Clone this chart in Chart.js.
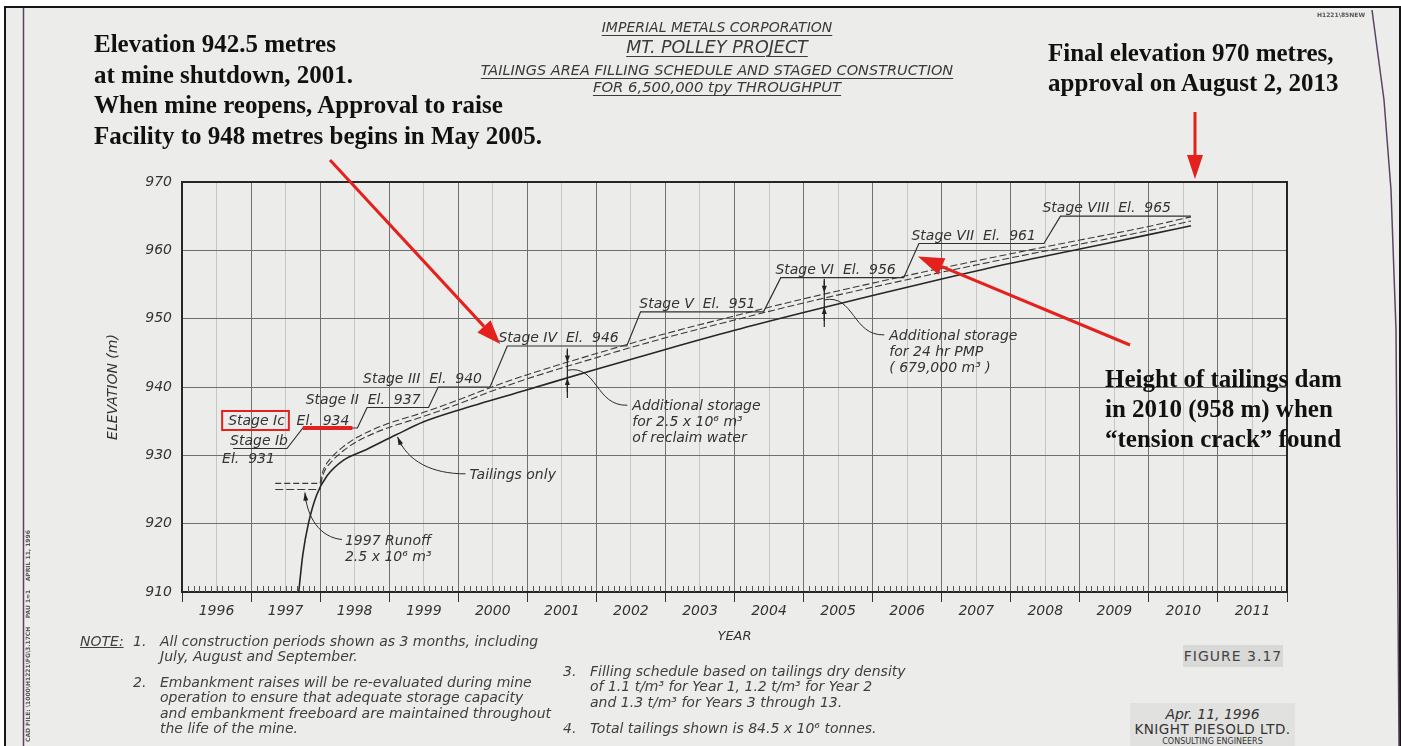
<!DOCTYPE html>
<html lang="en">
<head>
<meta charset="utf-8">
<title>Mt. Polley - tailings area filling schedule</title>
<script src="https://cdn.jsdelivr.net/npm/chart.js@4.4.1/dist/chart.umd.min.js"></script>
<style>
  html, body { margin: 0; padding: 0; }
  body { width: 1401px; height: 746px; overflow: hidden; position: relative; background: #fff; font-family: "DejaVu Sans", sans-serif; }
  #sheet { position: absolute; left: 4px; top: 6px; width: 1397px; height: 740px; box-sizing: border-box; background: #ececea; border: 2px solid #151515; border-bottom: none; }
  #chart { position: absolute; left: 0; top: 0; }
  .cad { position: absolute; white-space: nowrap; color: #3a3a3a; font-style: italic; line-height: 1.164; }
  .cad u { text-underline-offset: 3px; text-decoration-thickness: 1px; }
  .note { position: absolute; white-space: nowrap; color: #3f3f3f; font-style: italic; font-size: 14px; line-height: 15.3px; }
  .big { position: absolute; white-space: nowrap; font-family: "Liberation Serif", "Times New Roman", serif; font-weight: bold; font-size: 25px; line-height: 30.7px; color: #111; }
  .tiny { position: absolute; white-space: nowrap; color: #555; font-size: 6px; font-weight: bold; }
</style>
</head>
<body>
<div id="sheet"></div>
<canvas id="chart" width="1401" height="746"></canvas>

<!-- drawing title -->
<div class="cad" style="left:417px; width:600px; text-align:center; top:19px; font-size:14px;"><u>IMPERIAL METALS CORPORATION</u></div>
<div class="cad" style="left:417px; width:600px; text-align:center; top:37px; font-size:17.5px;"><u>MT. POLLEY PROJECT</u></div>
<div class="cad" style="left:417px; width:600px; text-align:center; top:62px; font-size:14.5px;"><u>TAILINGS AREA FILLING SCHEDULE AND STAGED CONSTRUCTION</u></div>
<div class="cad" style="left:417px; width:600px; text-align:center; top:78px; font-size:14.8px;"><u>FOR 6,500,000 tpy THROUGHPUT</u></div>

<!-- comments added on top of the scan -->
<div class="big" style="left:94px; top:29px;">Elevation 942.5 metres<br>at mine shutdown, 2001.<br>When mine reopens, Approval to raise<br>Facility to 948 metres begins in May 2005.</div>
<div class="big" style="left:1048px; top:38px; line-height:30px;">Final elevation 970 metres,<br>approval on August 2, 2013</div>
<div class="big" style="left:1105px; top:364px; line-height:30px;">Height of tailings dam<br>in 2010 (958 m) when<br>“tension crack” found</div>

<!-- notes -->
<div class="note" style="left:80px; top:634px;"><u>NOTE:</u></div>
<div class="note" style="left:133px; top:634px;">1.</div>
<div class="note" style="left:160px; top:634px;">All construction periods shown as 3 months, including<br>July, August and September.</div>
<div class="note" style="left:133px; top:675px;">2.</div>
<div class="note" style="left:160px; top:675px;">Embankment raises will be re-evaluated during mine<br>operation to ensure that adequate storage capacity<br>and embankment freeboard are maintained throughout<br>the life of the mine.</div>
<div class="note" style="left:563px; top:664px;">3.</div>
<div class="note" style="left:590px; top:664px;">Filling schedule based on tailings dry density<br>of 1.1 t/m³ for Year 1, 1.2 t/m³ for Year 2<br>and 1.3 t/m³ for Years 3 through 13.</div>
<div class="note" style="left:563px; top:721px;">4.</div>
<div class="note" style="left:590px; top:721px;">Total tailings shown is 84.5 x 10⁶ tonnes.</div>

<!-- title block -->
<div style="position:absolute; left:1183px; top:645px; width:100px; height:22px; background:#d9d9d7; color:#444; font-size:14px; line-height:22px; text-align:center; letter-spacing:1px;">FIGURE 3.17</div>
<div style="position:absolute; left:1130px; top:703px; width:165px; height:43px; background:#e1e1df; color:#333; text-align:center;">
  <div style="font-style:italic; font-size:14px; line-height:15px; margin-top:4px;">Apr. 11, 1996</div>
  <div style="font-size:13.5px; line-height:15px; letter-spacing:0.5px;">KNIGHT PIESOLD LTD.</div>
  <div style="font-size:8px; line-height:9px;">CONSULTING ENGINEERS</div>
</div>
<div class="tiny" style="left:1317px; top:11px;">H1221\85NEW</div>
<div class="tiny" style="left:24px; top:742px; transform:rotate(-90deg); transform-origin:left top;">CAD FILE: \1000\H1221\FG\3.17CH &nbsp;&nbsp; PAU 1=1 &nbsp;&nbsp; APRIL 11, 1996</div>

<script>
// ---- values ----
const yearLabels = ['1996', '1997', '1998', '1999', '2000', '2001', '2002', '2003',
                    '2004', '2005', '2006', '2007', '2008', '2009', '2010', '2011'];
const elevTicks = [910, 920, 930, 940, 950, 960, 970];

// tailings only (solid curve)
const tailingsYear = [1997.69, 1997.75, 1997.83, 1997.95, 1998.10, 1998.34, 1998.68, 1999.10, 1999.50,
                      2000, 2001, 2002, 2003, 2004, 2005, 2006, 2007, 2008, 2009, 2010, 2010.61];
const tailingsElev = [910.0, 915.5, 920.0, 924.2, 927.0, 929.3, 930.9, 933.0, 934.9,
                      936.6, 939.6, 942.6, 945.5, 948.3, 950.9, 953.4, 955.8, 958.1, 960.2, 962.3, 963.6];

// pond levels (the two dashed curves)
const pondYear = [1998.00, 1998.02, 1998.06, 1998.14, 1998.34, 1998.53, 1998.92, 1999.50, 2000.00, 2000.46,
                  2001, 2002, 2003, 2004, 2005, 2006, 2007, 2008, 2009, 2010, 2010.61];
const pondHigh = [925.9, 927.0, 928.2, 929.4, 931.3, 932.6, 934.4, 936.3, 938.1, 939.9,
                  941.8, 944.9, 947.8, 950.4, 952.9, 955.2, 957.4, 959.5, 961.5, 963.5, 964.9];
const pondLow  = [925.0, 926.3, 927.6, 928.8, 930.7, 932.0, 933.8, 935.7, 937.5, 939.3,
                  941.2, 944.3, 947.2, 949.8, 952.3, 954.6, 956.8, 958.9, 960.9, 962.9, 964.3];

// 1997 runoff storage
const runoffYear = [1997.35, 1998.0];
const runoffHigh = [925.9, 925.9];
const runoffLow  = [925.0, 925.0];

// staged embankment crest
const stageNames = ['Stage Ib', 'Stage Ic', 'Stage II', 'Stage III', 'Stage IV',
                    'Stage V', 'Stage VI', 'Stage VII', 'Stage VIII'];
const stageCrest = [931, 934, 937, 940, 946, 951, 956, 961, 965];
const stageYear = [1996.74, 1997.52, 1997.75, 1998.54, 1998.68, 1999.57, 1999.71, 2000.46, 2000.71,
                   2002.44, 2002.64, 2004.42, 2004.67, 2006.45, 2006.67, 2008.48, 2008.72, 2010.61];
const stageElev = [931, 931, 934, 934, 937, 937, 940, 940, 946, 946, 951, 951, 956, 956, 961, 961, 965, 965];

// additional storage dimension marks
const storageYear = [2001.58, 2005.30];
const storageTop = [943.6, 953.8];
const storageBottom = [941.3, 951.7];
const storageNotes = [
  ['Additional storage', 'for 2.5 x 10⁶ m³', 'of reclaim water'],
  ['Additional storage', 'for 24 hr PMP', '( 679,000 m³ )']
];

const RED = '#e4211c';
const INK = '#333';

function pts(xs, ys) {
  return xs.map((v, i) => ({ x: v, y: ys[i] }));
}

function arrow(ctx, x0, y0, x1, y1, head, half, color, width) {
  const ang = Math.atan2(y1 - y0, x1 - x0);
  const bx = x1 - head * Math.cos(ang), by = y1 - head * Math.sin(ang);
  ctx.strokeStyle = color;
  ctx.lineWidth = width;
  ctx.beginPath();
  ctx.moveTo(x0, y0);
  ctx.lineTo(bx, by);
  ctx.stroke();
  ctx.fillStyle = color;
  ctx.beginPath();
  ctx.moveTo(x1, y1);
  ctx.lineTo(bx + half * Math.sin(ang), by - half * Math.cos(ang));
  ctx.lineTo(bx - half * Math.sin(ang), by + half * Math.cos(ang));
  ctx.closePath();
  ctx.fill();
}

// everything drawn on top of the curves: labels, leaders, red marks
const drawingPlugin = {
  id: 'drawing',
  afterDatasetsDraw(chart) {
    const { ctx, chartArea: a } = chart;
    const px = v => chart.scales.x.getPixelForValue(v);
    const py = v => chart.scales.y.getPixelForValue(v);
    ctx.save();

    // plot frame
    ctx.strokeStyle = '#262626';
    ctx.lineWidth = 2;
    ctx.strokeRect(a.left, a.top, a.right - a.left, a.bottom - a.top);

    // monthly ticks along the year axis
    ctx.lineWidth = 1;
    ctx.strokeStyle = '#555';
    for (let m = 1; m < 192; m++) {
      if (m % 12 === 0) continue;
      const xx = Math.round(px(1996 + m / 12)) + 0.5;
      ctx.beginPath();
      ctx.moveTo(xx, a.bottom);
      ctx.lineTo(xx, a.bottom - 6);
      ctx.stroke();
    }

    // stage labels
    ctx.font = 'italic 14px "DejaVu Sans"';
    stageNames.forEach((name, i) => {
      const x0 = px(stageYear[2 * i]);
      const x1 = px(stageYear[2 * i + 1]);
      const yy = py(stageCrest[i]);
      ctx.fillStyle = INK;
      if (i === 0) {
        ctx.textAlign = 'right';
        ctx.fillText(name, x1 + 1, yy - 4);
        ctx.textAlign = 'left';
        ctx.fillText('El.  ' + stageCrest[i], x0 - 11, yy + 14);
      } else if (i === 1) {
        ctx.textAlign = 'right';
        ctx.fillText('El.  ' + stageCrest[i], x1 - 8, yy - 3);
        ctx.fillText(name, x0 - 18, yy - 3);
        const w = ctx.measureText(name).width;
        ctx.strokeStyle = RED;
        ctx.lineWidth = 2;
        ctx.strokeRect(x0 - 18 - w - 6, yy - 17, w + 10, 19);
        ctx.fillStyle = RED;
        ctx.fillRect(x0, yy - 2, x1 - x0 - 5, 4);
      } else {
        ctx.textAlign = 'right';
        ctx.fillText(name + '  El.  ' + stageCrest[i], x1 - (i === 8 ? 20 : 8), yy - 4);
      }
    });

    // additional storage dimension marks and their notes
    ctx.textAlign = 'left';
    storageYear.forEach((yr, i) => {
      const xx = px(yr), yt = py(storageTop[i]), yb = py(storageBottom[i]);
      ctx.strokeStyle = '#222';
      ctx.lineWidth = 1.2;
      ctx.beginPath();
      ctx.moveTo(xx, yt - 14);
      ctx.lineTo(xx, yb + 20);
      ctx.stroke();
      arrow(ctx, xx, yt - 12, xx, yt, 7, 2.5, '#222', 1.2);
      arrow(ctx, xx, yb + 14, xx, yb, 7, 2.5, '#222', 1.2);
      const ym = (yt + yb) / 2;
      ctx.strokeStyle = '#2a2a2a';
      ctx.lineWidth = 1;
      ctx.beginPath();
      ctx.moveTo(xx, ym);
      ctx.bezierCurveTo(xx + 30, ym - 6, xx + 28, ym + 36, xx + 60, ym + 35);
      ctx.stroke();
      ctx.fillStyle = INK;
      storageNotes[i].forEach((t, k) => ctx.fillText(t, xx + 65, ym + 40 + k * 16));
    });

    // "Tailings only" leader
    let tx = px(1999.12), ty = py(933.0) + 2;
    ctx.strokeStyle = '#2a2a2a';
    ctx.lineWidth = 1;
    ctx.beginPath();
    ctx.moveTo(tx, ty);
    ctx.bezierCurveTo(tx + 10, ty + 25, tx + 35, ty + 37, tx + 68, ty + 37);
    ctx.stroke();
    arrow(ctx, tx + 4, ty + 9, tx, ty, 8, 2.5, '#222', 1);
    ctx.fillStyle = INK;
    ctx.fillText('Tailings only', tx + 72, ty + 42);

    // "1997 Runoff" leader
    tx = px(1997.78);
    ty = py(runoffLow[0]) + 3;
    ctx.strokeStyle = '#2a2a2a';
    ctx.beginPath();
    ctx.moveTo(tx, ty);
    ctx.bezierCurveTo(tx + 2, ty + 25, tx + 15, ty + 45, tx + 37, ty + 47);
    ctx.stroke();
    arrow(ctx, tx + 1, ty + 9, tx, ty, 8, 2.5, '#222', 1);
    ctx.fillStyle = INK;
    ctx.fillText('1997 Runoff', tx + 40, ty + 52);
    ctx.fillText('2.5 x 10⁶ m³', tx + 40, ty + 68);

    // red arrows from the comments
    const s4x = px(stageYear[8]), s4y = py(stageElev[8]);
    arrow(ctx, 330, 160, s4x - 7, s4y - 2, 24, 9, RED, 3);
    arrow(ctx, 1195, 112, 1195, a.top - 3, 24, 8, RED, 3);
    const s7x = px(stageYear[14]), s7y = py(stageElev[14]);
    arrow(ctx, 1130, 345, s7x - 1, s7y + 13, 26, 9, RED, 3);

    // sheet borders of the scanned drawing
    ctx.strokeStyle = '#5b4463';
    ctx.lineWidth = 1.5;
    ctx.beginPath();
    ctx.moveTo(23.5, 8);
    ctx.lineTo(23.5, 746);
    ctx.stroke();
    ctx.beginPath();
    ctx.moveTo(1372, 10);
    ctx.lineTo(1384, 100);
    ctx.lineTo(1391, 190);
    ctx.lineTo(1396, 330);
    ctx.lineTo(1399, 746);
    ctx.stroke();
    ctx.restore();
  }
};

Chart.defaults.font.family = '"DejaVu Sans", sans-serif';
Chart.defaults.color = INK;

new Chart(document.getElementById('chart'), {
  type: 'line',
  data: {
    datasets: [
      {
        label: 'Tailings only',
        data: pts(tailingsYear, tailingsElev),
        borderColor: '#262626',
        borderWidth: 1.6,
        cubicInterpolationMode: 'monotone'
      },
      {
        label: 'Pond (upper)',
        data: pts(pondYear, pondHigh),
        borderColor: '#3a3a3a',
        borderWidth: 1.1,
        borderDash: [7, 3],
        cubicInterpolationMode: 'monotone'
      },
      {
        label: 'Pond (lower)',
        data: pts(pondYear, pondLow),
        borderColor: '#3a3a3a',
        borderWidth: 1.1,
        borderDash: [7, 3],
        borderDashOffset: 5,
        cubicInterpolationMode: 'monotone'
      },
      {
        label: '1997 Runoff (upper)',
        data: pts(runoffYear, runoffHigh),
        borderColor: '#3a3a3a',
        borderWidth: 1.1,
        borderDash: [6, 3]
      },
      {
        label: '1997 Runoff (lower)',
        data: pts(runoffYear, runoffLow),
        borderColor: '#3a3a3a',
        borderWidth: 1.1,
        borderDash: [8, 3]
      },
      {
        label: 'Embankment crest',
        data: pts(stageYear, stageElev),
        borderColor: '#303030',
        borderWidth: 1.2
      }
    ]
  },
  options: {
    responsive: false,
    animation: false,
    layout: { padding: { left: 100, top: 182, right: 114, bottom: 102 } },
    elements: { point: { radius: 0 }, line: { tension: 0 } },
    plugins: { legend: { display: false }, tooltip: { enabled: false } },
    scales: {
      x: {
        type: 'linear',
        min: 1996,
        max: 2012,
        afterFit: s => { s.height = 52; },
        afterBuildTicks: s => {
          const t = [];
          for (let i = 0; i <= 16; i++) {
            t.push({ value: 1996 + i });
            if (i < 16) t.push({ value: 1996 + i + 0.5 });
          }
          s.ticks = t;
        },
        ticks: {
          autoSkip: false,
          maxRotation: 0,
          padding: 1,
          font: { size: 14, style: 'italic' },
          color: INK,
          callback: v => (v % 1 === 0.5 ? yearLabels[Math.floor(v) - 1996] : '')
        },
        grid: {
          color: c => (c.tick && c.tick.value % 1 === 0 ? '#707070' : 'rgba(110,110,110,0.3)'),
          tickColor: c => (c.tick && c.tick.value % 1 === 0 ? '#333' : 'rgba(0,0,0,0)'),
          tickLength: 10
        },
        border: { display: true, color: '#262626', width: 2 },
        title: {
          display: true,
          text: 'YEAR',
          font: { size: 13, style: 'italic' },
          color: INK,
          padding: { top: 0, bottom: 0 }
        }
      },
      y: {
        min: 910,
        max: 970,
        afterFit: s => { s.width = 82; },
        afterBuildTicks: s => { s.ticks = elevTicks.map(v => ({ value: v })); },
        ticks: {
          padding: 10,
          font: { size: 14, style: 'italic' },
          color: INK
        },
        grid: { color: '#6e6e6e', drawTicks: false },
        border: { display: true, color: '#262626', width: 2 },
        title: {
          display: true,
          text: 'ELEVATION (m)',
          font: { size: 14, style: 'italic' },
          color: INK,
          padding: { top: 5, bottom: 0 }
        }
      }
    }
  },
  plugins: [drawingPlugin]
});
</script>
</body>
</html>
